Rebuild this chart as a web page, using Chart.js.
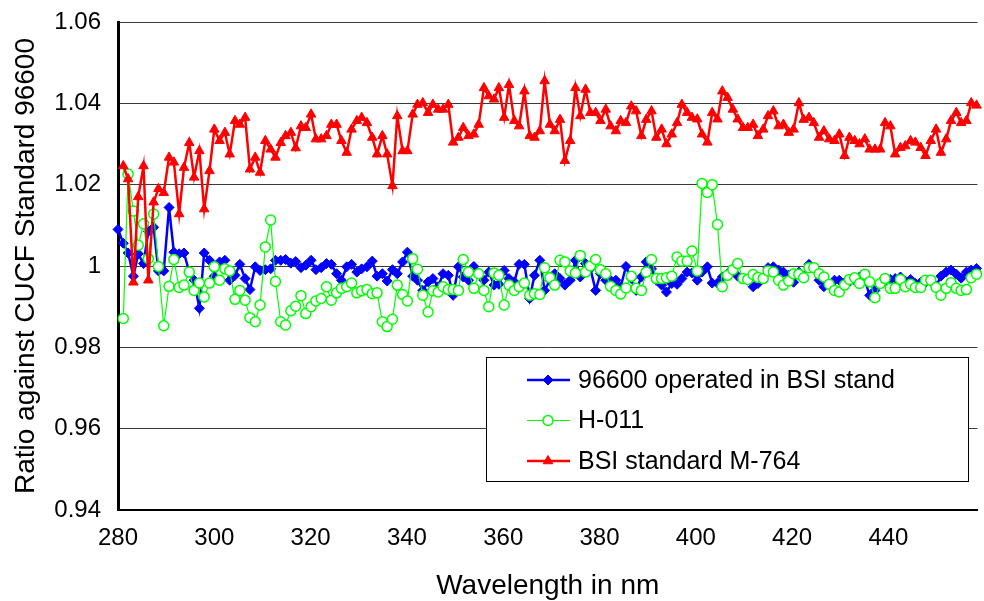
<!DOCTYPE html>
<html>
<head>
<meta charset="utf-8">
<script src="https://cdn.jsdelivr.net/npm/chart.js@4.4.1/dist/chart.umd.min.js"></script>
<style>
  html, body { margin: 0; padding: 0; background: #fff; overflow: hidden; }
  #wrap { width: 984px; height: 601px; }
</style>
</head>
<body>
<div id="wrap"><canvas id="chart" width="984" height="601"></canvas></div>
<script>
// wavelength of each sample (nm)
const wavelengths = [
  280.0, 281.1, 282.1, 283.2, 284.2, 285.3, 286.3, 287.4, 288.4, 289.5,
  290.6, 291.6, 292.7, 293.7, 294.8, 295.8, 296.9, 297.9, 299.0, 300.0,
  301.1, 302.2, 303.2, 304.3, 305.3, 306.4, 307.4, 308.5, 309.5, 310.6,
  311.7, 312.7, 313.8, 314.8, 315.9, 316.9, 318.0, 319.0, 320.1, 321.1,
  322.2, 323.3, 324.3, 325.4, 326.4, 327.5, 328.5, 329.6, 330.6, 331.7,
  332.8, 333.8, 334.9, 335.9, 337.0, 338.0, 339.1, 340.1, 341.2, 342.2,
  343.3, 344.4, 345.4, 346.5, 347.5, 348.6, 349.6, 350.7, 351.7, 352.8,
  353.9, 354.9, 356.0, 357.0, 358.1, 359.1, 360.2, 361.2, 362.3, 363.3,
  364.4, 365.5, 366.5, 367.6, 368.6, 369.7, 370.7, 371.8, 372.8, 373.9,
  375.0, 376.0, 377.1, 378.1, 379.2, 380.2, 381.3, 382.3, 383.4, 384.4,
  385.5, 386.6, 387.6, 388.7, 389.7, 390.8, 391.8, 392.9, 393.9, 395.0,
  396.1, 397.1, 398.2, 399.2, 400.3, 401.3, 402.4, 403.4, 404.5, 405.5,
  406.6, 407.7, 408.7, 409.8, 410.8, 411.9, 412.9, 414.0, 415.0, 416.1,
  417.2, 418.2, 419.3, 420.3, 421.4, 422.4, 423.5, 424.5, 425.6, 426.6,
  427.7, 428.8, 429.8, 430.9, 431.9, 433.0, 434.0, 435.1, 436.1, 437.2,
  438.3, 439.3, 440.4, 441.4, 442.5, 443.5, 444.6, 445.6, 446.7, 447.7,
  448.8, 449.9, 450.9, 452.0, 453.0, 454.1, 455.1, 456.2, 457.2, 458.3
];

// 96600 operated in BSI stand
const bsiStand = [
  1.009, 1.0056, 1.0032, 0.9975, 1.003, 1.0006, 1.0085, 1.0095, 0.9988, 0.9988,
  1.0144, 1.0034, 1.003, 1.0032, 0.9985, 0.9965, 0.9896, 1.0032, 1.0014, 0.9975,
  1.001, 1.0014, 0.9965, 0.9977, 1.0004, 0.9969, 0.9942, 0.9998, 0.9989, 0.9991,
  0.9993, 1.0014, 1.0014, 1.0016, 1.0007, 1.0011, 0.9996, 1.0002, 1.0014, 0.9991,
  0.9996, 1.0006, 1.0004, 0.9981, 0.9965, 0.9998, 1.0004, 0.9985, 0.9993, 0.9998,
  1.0012, 0.9975, 0.9981, 0.9963, 0.9991, 0.9981, 1.001, 1.0034, 0.9975, 0.9965,
  0.994, 0.9961, 0.9969, 0.9949, 0.9981, 0.9977, 0.9928, 0.9998, 0.9973, 0.9965,
  0.9999, 0.9981, 0.9965, 0.9985, 0.9953, 0.9955, 0.9989, 0.9969, 0.9961, 1.0004,
  1.0004, 0.992, 0.9977, 1.0014, 0.994, 0.9965, 0.9981, 0.9969, 0.9953, 0.9965,
  1.0014, 0.9973, 1.0006, 0.9993, 0.994, 0.9981, 0.9965, 0.9965, 0.9965, 0.9949,
  0.9999, 0.9969, 0.994, 0.9973, 1.001, 0.9993, 0.9965, 0.9953, 0.9936, 0.9957,
  0.9955, 0.9969, 0.9985, 0.9983, 0.9965, 0.9985, 0.9998, 0.9958, 0.9958, 0.9973,
  0.9981, 0.9993, 0.9975, 0.9969, 0.9965, 0.9949, 0.9957, 0.997, 0.9996, 0.9998,
  0.999, 0.9985, 0.9978, 0.996, 0.9985, 0.9975, 1.0004, 0.9995, 0.9965, 0.9949,
  0.9955, 0.9965, 0.9965, 0.996, 0.9961, 0.9965, 0.9973, 0.9965, 0.9928, 0.994,
  0.996, 0.9963, 0.9967, 0.9969, 0.9973, 0.9963, 0.9967, 0.9957, 0.996, 0.996,
  0.9963, 0.995, 0.9975, 0.9985, 0.999, 0.998, 0.997, 0.9985, 0.999, 0.9994
];

// H-011
const h011 = [
  null, 0.9871, 1.0226, 1.0135, 1.0051, 1.0104, 1.0018, 1.0128, 0.9999, 0.9853,
  0.995, 1.0016, 0.9947, 0.9953, 0.9985, 0.994, 0.9958, 0.9924, 0.9958, 0.9998,
  0.9965, 0.9993, 0.9988, 0.9918, 0.994, 0.9916, 0.9873, 0.9863, 0.9904, 1.0047,
  1.0113, 0.9962, 0.9863, 0.9855, 0.989, 0.9901, 0.9927, 0.9883, 0.99, 0.9914,
  0.992, 0.9949, 0.9916, 0.9934, 0.9945, 0.9949, 0.9958, 0.9934, 0.9939, 0.9942,
  0.9932, 0.9934, 0.9863, 0.9851, 0.9869, 0.9953, 0.993, 0.9914, 1.0018, 0.9992,
  0.9928, 0.9887, 0.9939, 0.9936, 0.9949, 0.9942, 0.9942, 0.994, 1.0016, 0.9985,
  0.9945, 0.9981, 0.994, 0.99, 0.9983, 0.9977, 0.9904, 0.9953, 0.994, 0.9949,
  0.9958, 0.9928, 0.9932, 0.993, 0.9996, 0.9971, 0.9953, 1.0014, 1.001, 0.9988,
  0.9983, 1.0026, 0.9985, 1.0, 1.0016, 0.9991, 0.9981, 0.995, 0.994, 0.9931,
  0.9946, 0.9975, 0.9945, 0.994, 0.9985, 1.0016, 0.9969, 0.9969, 0.9971, 0.9975,
  1.0022, 1.0012, 1.0012, 1.0037, 0.9988, 1.0203, 1.0181, 1.02, 1.0102, 0.9949,
  0.9977, 0.9991, 1.0006, 0.9969, 0.9967, 0.9979, 0.9972, 0.9969, 0.9988, 0.9985,
  0.9965, 0.9953, 0.9963, 0.9981, 0.998, 0.9971, 0.9996, 0.9996, 0.9981, 0.9973,
  0.9955, 0.994, 0.9936, 0.9953, 0.9967, 0.9971, 0.9957, 0.998, 0.9961, 0.9922,
  0.9957, 0.9969, 0.9945, 0.9945, 0.9967, 0.9949, 0.9955, 0.9947, 0.9947, 0.9965,
  0.9965, 0.9947, 0.9928, 0.9945, 0.9959, 0.9945, 0.994, 0.9942, 0.9971, 0.998
];

// BSI standard M-764
const bsiStandard = [
  null, 1.0246, 1.0214, 0.996, 1.017, 1.0246, 0.9965, 1.0157, 1.019, 1.018,
  1.0267, 1.0255, 1.0128, 1.0242, 1.0303, 1.0218, 1.0283, 1.014, 1.0234, 1.0336,
  1.0308, 1.0328, 1.0275, 1.0357, 1.0348, 1.0365, 1.0238, 1.0267, 1.023, 1.0308,
  1.0287, 1.0267, 1.0303, 1.032, 1.0328, 1.029, 1.0344, 1.034, 1.0373, 1.0312,
  1.0312, 1.032, 1.0348, 1.0348, 1.0308, 1.0279, 1.0336, 1.0357, 1.0365, 1.0352,
  1.0316, 1.0275, 1.032, 1.0275, 1.0197, 1.0369, 1.0283, 1.0283, 1.0373, 1.0397,
  1.0401, 1.0377, 1.0397, 1.0385, 1.0385, 1.0397, 1.0304, 1.0316, 1.034, 1.032,
  1.0324, 1.0348, 1.0438, 1.0418, 1.041, 1.0438, 1.0365, 1.0446, 1.0357, 1.0344,
  1.043, 1.032, 1.0316, 1.0332, 1.0455, 1.0348, 1.0332, 1.036, 1.0259, 1.0308,
  1.0438, 1.0369, 1.0434, 1.0377, 1.0377, 1.0357, 1.0385, 1.0344, 1.0332, 1.0357,
  1.0352, 1.0393, 1.0381, 1.032, 1.036, 1.0381, 1.0316, 1.0336, 1.03, 1.0324,
  1.0352, 1.0397, 1.0377, 1.0365, 1.0361, 1.0324, 1.0304, 1.0377, 1.0361, 1.043,
  1.0414, 1.0385, 1.0361, 1.034, 1.034, 1.0348, 1.032, 1.0336, 1.0369, 1.0381,
  1.0344, 1.0348, 1.0328, 1.0336, 1.0401, 1.036, 1.0365, 1.0352, 1.0316, 1.0332,
  1.0312, 1.0308, 1.0324, 1.0271, 1.0316, 1.0308, 1.03, 1.0312, 1.0287, 1.0287,
  1.0287, 1.0352, 1.0344, 1.0275, 1.0291, 1.0295, 1.0308, 1.0304, 1.0291, 1.0271,
  1.0308, 1.0336, 1.0279, 1.0312, 1.0357, 1.0377, 1.0352, 1.0357, 1.0401, 1.0395
];

const seriesNames = ["96600 operated in BSI stand", "H-011", "BSI standard M-764"];
const xTicks = [280, 300, 320, 340, 360, 380, 400, 420, 440];
const yTicks = [0.94, 0.96, 0.98, 1.00, 1.02, 1.04, 1.06];

const FONT = '"Liberation Sans", Arial, sans-serif';

function toPoints(vals) {
  return wavelengths.map((w, i) => ({ x: w, y: vals[i] }));
}

// legend drawn as a framed box inside the plot, like the original
const boxLegend = {
  id: 'boxLegend',
  afterDraw(chart) {
    const ctx = chart.ctx;
    ctx.save();
    ctx.fillStyle = '#fff';
    ctx.fillRect(486, 357, 482, 124);
    ctx.strokeStyle = '#000';
    ctx.lineWidth = 1;
    ctx.strokeRect(486.5, 357.5, 482, 124);
    [0, 1, 2].forEach((i) => {
      const ds = chart.data.datasets[i];
      const y = 380 + i * 40.5;
      ctx.strokeStyle = ds.borderColor;
      ctx.lineWidth = ds.borderWidth;
      ctx.beginPath();
      ctx.moveTo(527, y);
      ctx.lineTo(570, y);
      ctx.stroke();
      ctx.fillStyle = ds.pointBackgroundColor;
      ctx.strokeStyle = ds.pointBorderColor;
      ctx.lineWidth = ds.pointBorderWidth;
      Chart.helpers.drawPoint(ctx, {
        pointStyle: ds.pointStyle, radius: ds.pointRadius,
        borderWidth: ds.pointBorderWidth, rotation: 0
      }, 548, y);
      ctx.fillStyle = '#000';
      ctx.font = '25px ' + FONT;
      ctx.textBaseline = 'middle';
      ctx.textAlign = 'left';
      ctx.fillText(seriesNames[i], 578, y + 1);
    });
    ctx.restore();
  }
};

new Chart(document.getElementById('chart'), {
  type: 'line',
  data: {
    datasets: [
      {
        label: seriesNames[0],
        data: toPoints(bsiStand),
        borderColor: '#0000FF',
        backgroundColor: '#0000FF',
        borderWidth: 2.5,
        pointStyle: 'rectRot',
        pointRadius: 5,
        pointBackgroundColor: '#0000FF',
        pointBorderColor: '#0000FF',
        pointBorderWidth: 1,
        order: 3
      },
      {
        label: seriesNames[1],
        data: toPoints(h011),
        borderColor: '#00FF00',
        backgroundColor: '#00FF00',
        borderWidth: 1.2,
        pointStyle: 'circle',
        pointRadius: 5,
        pointBackgroundColor: '#FFFFFF',
        pointBorderColor: '#00FF00',
        pointBorderWidth: 1.5,
        order: 2
      },
      {
        label: seriesNames[2],
        data: toPoints(bsiStandard),
        borderColor: '#FF0000',
        backgroundColor: '#FF0000',
        borderWidth: 2.5,
        pointStyle: 'triangle',
        pointRadius: 5.5,
        pointBackgroundColor: '#FF0000',
        pointBorderColor: '#FF0000',
        pointBorderWidth: 1,
        order: 1
      }
    ]
  },
  options: {
    responsive: false,
    animation: false,
    devicePixelRatio: 1,
    spanGaps: false,
    clip: false,
    layout: { padding: { top: 22, right: 0, bottom: 0, left: 0 } },
    plugins: {
      legend: { display: false },
      tooltip: { enabled: false }
    },
    scales: {
      x: {
        type: 'linear',
        min: 280,
        max: 458.5,
        afterBuildTicks: (s) => { s.ticks = xTicks.map(v => ({ value: v })); },
        afterFit: (s) => { s.height = 91; },
        ticks: {
          color: '#000',
          font: { family: FONT, size: 24 },
          padding: 6,
          maxRotation: 0,
          callback: (v) => String(v)
        },
        grid: { display: false },
        border: { display: true, color: '#000', width: 2 },
        title: {
          display: true,
          text: 'Wavelength in nm',
          color: '#000',
          font: { family: FONT, size: 28 },
          padding: { top: 0, bottom: -2 }
        }
      },
      y: {
        min: 0.94,
        max: 1.06,
        afterBuildTicks: (s) => { s.ticks = yTicks.map(v => ({ value: v })); },
        afterFit: (s) => { s.width = 118; },
        ticks: {
          color: '#000',
          font: { family: FONT, size: 24 },
          padding: 4,
          callback: (v) => String(Number(v.toFixed(2)))
        },
        grid: {
          color: '#3a3a3a', lineWidth: 1,
          drawTicks: true, tickLength: 13, tickColor: 'rgba(0,0,0,0)'
        },
        border: { display: true, color: '#000', width: 3 },
        title: {
          display: true,
          text: 'Ratio against CUCF Standard 96600',
          color: '#000',
          font: { family: FONT, size: 28 },
          padding: { top: 9, bottom: 0 }
        }
      }
    }
  },
  plugins: [boxLegend]
});
</script>
</body>
</html>
